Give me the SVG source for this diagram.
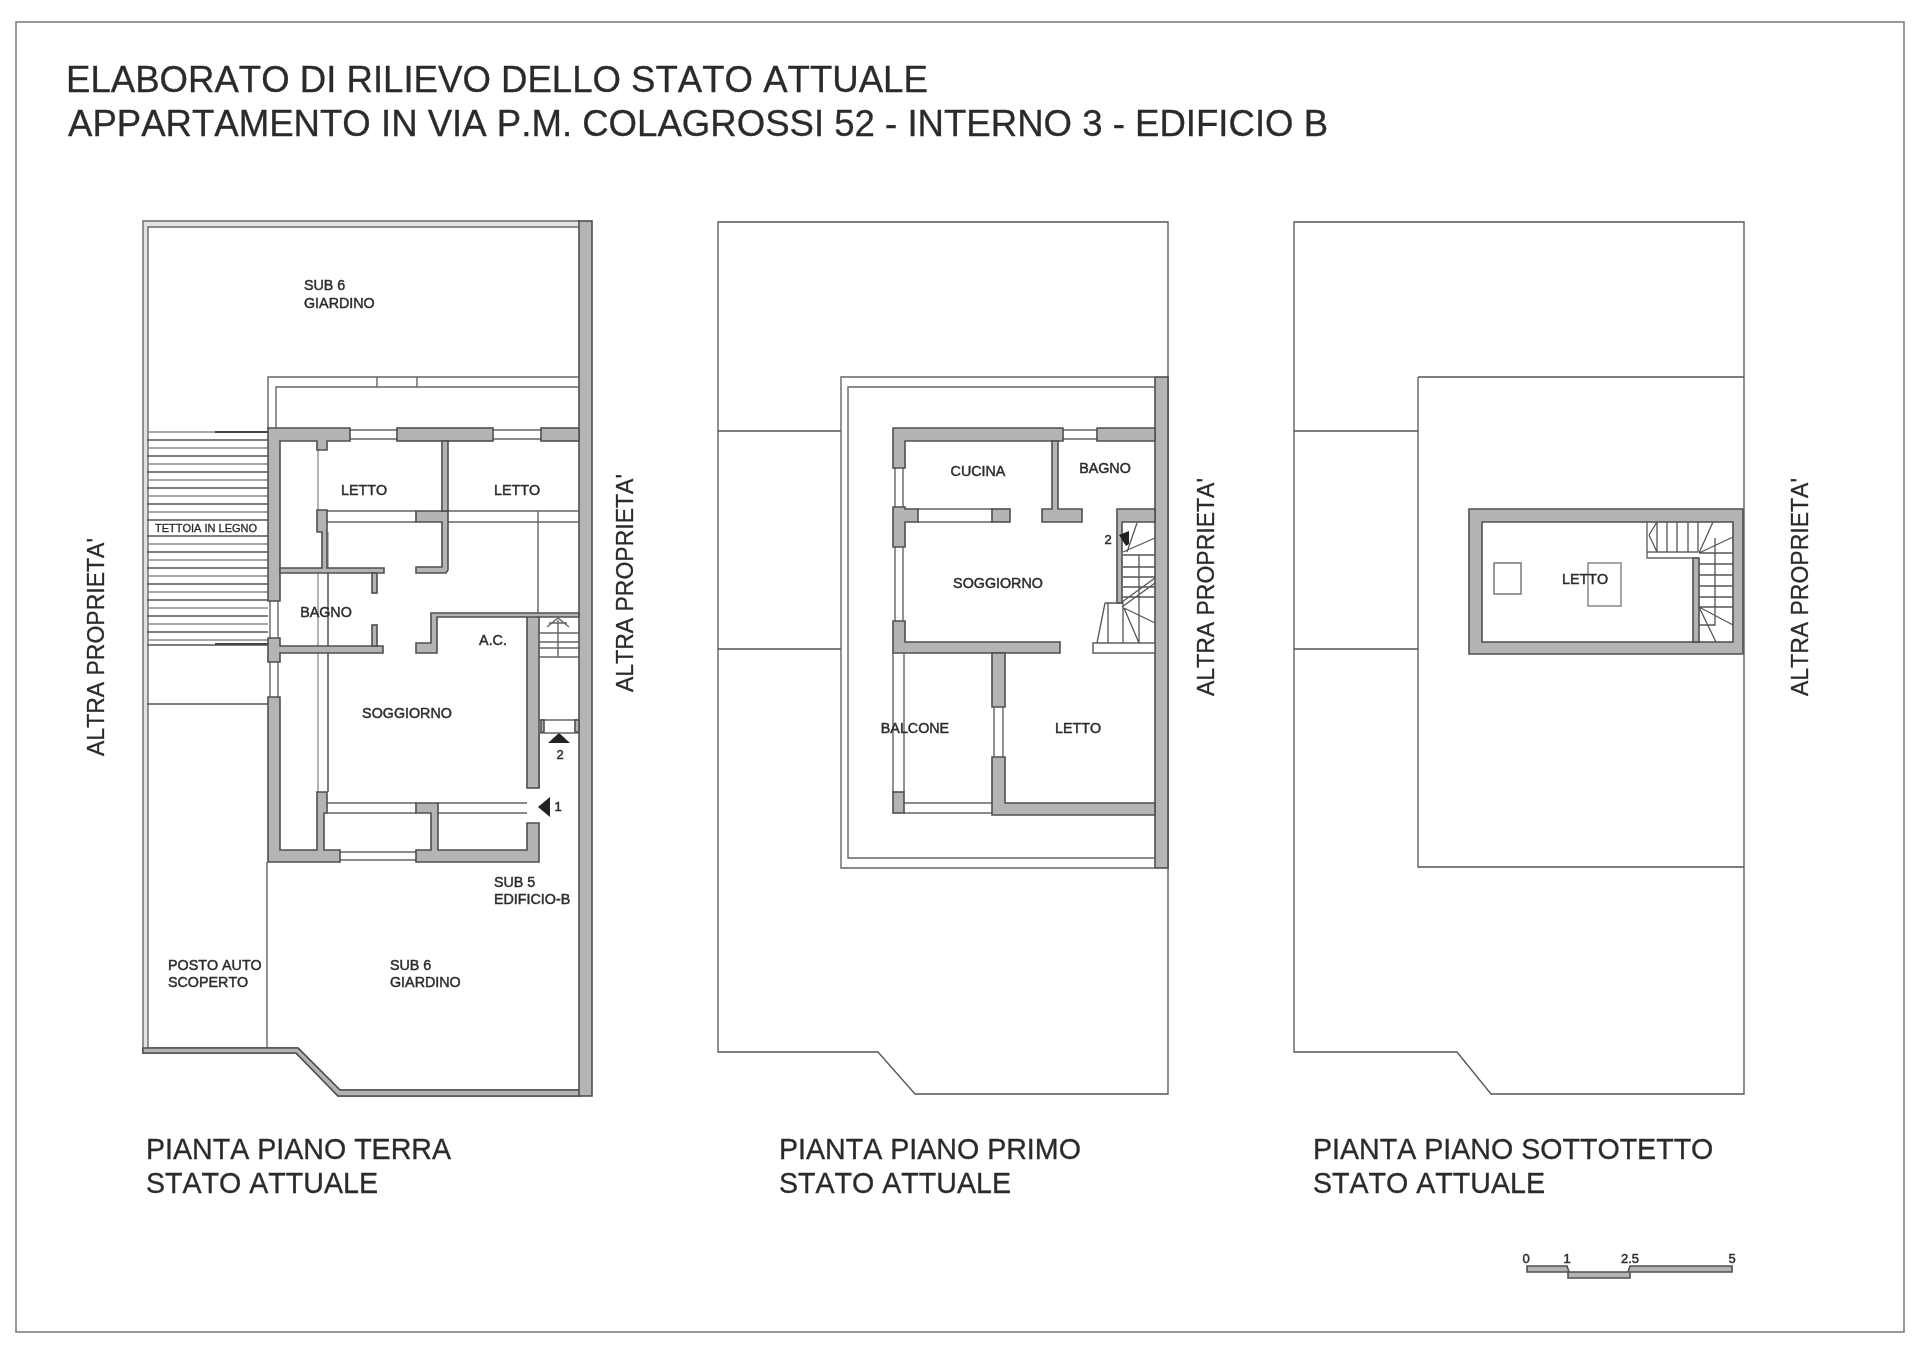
<svg xmlns="http://www.w3.org/2000/svg" width="1920" height="1356" viewBox="0 0 1920 1356">
<style>
text{font-family:"Liberation Sans",Arial,sans-serif;fill:#2b2b2b;stroke:#2b2b2b;stroke-width:.3;font-kerning:none}
.t{font-size:36.6px}
.c{font-size:28.6px}
.a{font-size:23px}
.r{font-size:14.3px;text-anchor:middle;stroke-width:.45}
.s{font-size:14.3px;stroke-width:.45}
.n{font-size:13px;text-anchor:middle;stroke-width:.45}
.w{fill:#b4b4b4;stroke:#4f4f4f;stroke-width:1.6}
.o{fill:#e2e2e2;stroke:#6a6a6a;stroke-width:1.4}
.l{fill:none;stroke:#666;stroke-width:1.4}
.d{fill:none;stroke:#444;stroke-width:1.8}
.h{fill:none;stroke:#8c8c8c;stroke-width:1.3}
.f{fill:none;stroke:#555;stroke-width:1.3}
.k{fill:#222}
</style>
<defs><filter id="b" x="0" y="0" width="1920" height="1356" filterUnits="userSpaceOnUse"><feGaussianBlur stdDeviation="0.7"/></filter></defs>
<rect width="1920" height="1356" fill="#fff"/>
<g filter="url(#b)">
<rect id="frame" x="16" y="22" width="1888" height="1310" fill="none" stroke="#777" stroke-width="1.5"/>
<g id="title">
<text class="t" x="66" y="92">ELABORATO DI RILIEVO DELLO STATO ATTUALE</text>
<text class="t" x="68" y="136">APPARTAMENTO IN VIA P.M. COLAGROSSI 52 - INTERNO 3 - EDIFICIO B</text>
</g>
<g id="plan-terra">
<path class="o" d="M143 221H580V227H148V1048H298L340 1090H580V1096H338L296 1053H143Z"/>
<path class="w" d="M298 1048L340 1090H580V1096H338L296 1053H143V1048Z" fill="#999"/>
<rect class="w" x="579" y="221" width="13" height="875"/>
<path class="f" d="M267 862V1048"/>
<path class="l" d="M268 428V377H579M276 428V387H579M377 377V387M417 377V387"/>
<!-- tettoia -->
<path class="h" d="M147 432H268M147 448H268M147 464H268M147 480H268M147 496H268M147 512H268M147 544H268M147 560H268M147 576H268M147 592H268M147 608H268M147 624H268M147 640H268"/>
<path class="f" d="M147 440H268M147 456H268M147 472H268M147 488H268M147 504H268M147 520H268M147 536H268M147 552H268M147 568H268M147 584H268M147 600H268M147 616H268M147 632H268M147 645H268"/>
<path class="d" d="M215 432H268M215 644H268" stroke-width="2.4"/>
<path class="f" d="M147 704H268"/>
<!-- thin lines -->
<path class="h" d="M318 450V510M318 568V792M328 532V792"/>
<path class="l" d="M328 568V792M327 511H416M327 522H416M448 511H579M448 522H579M538 511V613M327 803H416M327 813H416M438 803H527M438 813H527M539 733V788"/>
<!-- windows -->
<path class="l" d="M350 430H397M350 439H397M493 430H541M493 439H541M270 601V638M278 601V638M270 662V697M278 662V697M340 852H416M340 860H416"/>
<!-- walls -->
<path class="w" d="M268 428H350V441H327V450H317V441H280V601H268Z"/>
<rect class="w" x="397" y="428" width="96" height="13"/>
<rect class="w" x="541" y="428" width="38" height="13"/>
<path class="w" d="M268 638H280V646H383V653H280V662H268Z"/>
<path class="w" d="M268 697H280V850H317V792H327V813H324V850H340V862H268Z"/>
<path class="w" d="M416 862V850H431V813H416V803H438V850H527V823H539V862Z"/>
<rect class="w" x="527" y="615" width="12" height="173"/>
<path class="w" d="M317 510H327V568H384V573H280V568H322V532H317Z"/>
<rect class="w" x="372" y="573" width="5" height="20"/>
<rect class="w" x="372" y="625" width="5" height="21"/>
<path class="w" d="M416 511H448V570L446 573H416V567H442V522H416Z"/>
<rect class="w" x="442" y="441" width="6" height="70"/>
<path class="w" d="M431 613H579V617H437V653H416V643H431Z"/>
<!-- stair -->
<path class="l" d="M539 633H579M539 642H579M539 648H579M539 657H579M539 720H579M539 733H579M558 657V620M547 627L558 618L569 627M549 623H567"/>
<path class="w" d="M541 720H544V732H541ZM575 720H579V732H575Z"/>
<path class="k" d="M548 743L559 733L570 743Z"/>
<text class="n" x="560" y="759">2</text>
<path class="k" d="M550 797V817L538 807Z"/>
<text class="n" x="558" y="811">1</text>
<g id="plan-terra-labels">
<text class="s" x="304" y="290">SUB 6</text><text class="s" x="304" y="308">GIARDINO</text>
<text class="r" x="364" y="495">LETTO</text><text class="r" x="517" y="495">LETTO</text>
<text x="206" y="532" font-size="11" text-anchor="middle" stroke-width=".45">TETTOIA IN LEGNO</text>
<text class="r" x="326" y="617">BAGNO</text><text class="r" x="493" y="645">A.C.</text>
<text class="r" x="407" y="718">SOGGIORNO</text>
<text class="s" x="494" y="887">SUB 5</text><text class="s" x="494" y="904">EDIFICIO-B</text>
<text class="s" x="168" y="970">POSTO AUTO</text><text class="s" x="168" y="987">SCOPERTO</text>
<text class="s" x="390" y="970">SUB 6</text><text class="s" x="390" y="987">GIARDINO</text>
</g>
<text class="a" transform="translate(104 756) rotate(-90)">ALTRA PROPRIETA'</text>
<text class="a" transform="translate(633 692) rotate(-90)">ALTRA PROPRIETA'</text>
<text class="c" x="146" y="1159">PIANTA PIANO TERRA</text><text class="c" x="146" y="1193">STATO ATTUALE</text>
</g>
<g id="plan-primo">
<path class="f" d="M718 222H1168V1094H915L878 1052H718ZM718 431H841M718 649H841"/>
<rect class="w" x="1155" y="377" width="13" height="491"/>
<path class="l" d="M1155 377H841V868H1155M1155 387H848V858H1155"/>
<!-- windows and thin lines -->
<path class="l" d="M1063 430H1097M1063 439H1097M895 468V507M903 468V507M895 547V621M903 547V621M918 509H992M918 522H992M994 707V757M1003 707V757M893 653V792M904 653V792M904 803H992M904 813H992"/>
<path class="w" d="M893 428H1063V441H905V468H893Z"/>
<path class="w" d="M1097 428H1155V441H1097Z"/>
<path class="w" d="M893 507H905V509H918V522H905V547H893Z"/>
<path class="w" d="M893 621H905V642H1060V653H893Z"/>
<rect class="w" x="992" y="509" width="18" height="13"/>
<path class="w" d="M1042 509H1052V441H1058V509H1082V522H1042Z"/>
<path class="w" d="M1117 509H1155V522H1122V603H1117Z"/>
<path class="w" d="M992 653H1005V707H992Z"/>
<path class="w" d="M992 757H1005V803H1155V815H992Z"/>
<rect class="w" x="893" y="792" width="11" height="21"/>
<rect x="1093" y="643" width="62" height="10" fill="#fff" stroke="#555" stroke-width="1.4"/>
<path class="f" d="M1123 555H1155M1123 567H1155M1123 577H1155M1123 587H1155M1123 597H1155M1139 555V643M1105 603H1123L1123 643M1105 603L1097 643M1108 603V643M1124 608L1139 643M1124 608L1155 623M1122 602L1155 578M1122 607L1155 583M1123 552L1155 538M1127 552L1137 523"/>
<path class="k" d="M1119 535L1129 531V544L1126 546Z"/>
<text class="n" x="1108" y="544">2</text>
<g id="plan-primo-labels">
<text class="r" x="978" y="476">CUCINA</text><text class="r" x="1105" y="473">BAGNO</text>
<text class="r" x="998" y="588">SOGGIORNO</text>
<text class="r" x="915" y="733">BALCONE</text><text class="r" x="1078" y="733">LETTO</text>
</g>
<text class="a" transform="translate(1214 696) rotate(-90)">ALTRA PROPRIETA'</text>
<text class="c" x="779" y="1159">PIANTA PIANO PRIMO</text><text class="c" x="779" y="1193">STATO ATTUALE</text>
</g>
<g id="plan-sottotetto">
<path class="f" d="M1294 222H1744V1094H1491L1457 1052H1294ZM1294 431H1418M1294 649H1418M1418 377H1744M1418 377V867H1744"/>
<path class="w" d="M1469 509H1743V654H1469ZM1482 522V642H1733V522Z" fill-rule="evenodd"/>
<rect class="w" x="1693" y="558" width="6" height="84"/>
<path class="l" d="M1647 522V558H1698M1647 552H1698"/>
<path class="f" d="M1657 522V552M1667 522V552M1677 522V552M1688 522V552M1698 522V552M1699 553H1733M1699 564H1733M1699 575H1733M1699 586H1733M1699 597H1733M1699 607H1733M1715 538V625H1699M1699 553L1713 522M1699 553L1733 537M1699 607L1733 625M1699 607L1716 642M1649 535L1657 522M1649 535L1657 552"/>
<rect x="1494" y="563" width="27" height="31" fill="none" stroke="#777" stroke-width="1.5"/>
<rect x="1588" y="563" width="33" height="43" fill="none" stroke="#888" stroke-width="1.5"/>
<text class="r" x="1585" y="584">LETTO</text>
<text class="a" transform="translate(1808 696) rotate(-90)">ALTRA PROPRIETA'</text>
<text class="c" x="1313" y="1159">PIANTA PIANO SOTTOTETTO</text><text class="c" x="1313" y="1193">STATO ATTUALE</text>
</g>
<g id="scale">
<path class="w" d="M1527 1266H1567L1569 1272H1628L1630 1266H1732V1272H1630V1278H1568V1272H1527Z"/>
<text class="n" x="1526" y="1263" font-size="12">0</text>
<text class="n" x="1567" y="1263" font-size="12">1</text>
<text class="n" x="1630" y="1263" font-size="12">2.5</text>
<text class="n" x="1732" y="1263" font-size="12">5</text>
</g>
</g>
</svg>
